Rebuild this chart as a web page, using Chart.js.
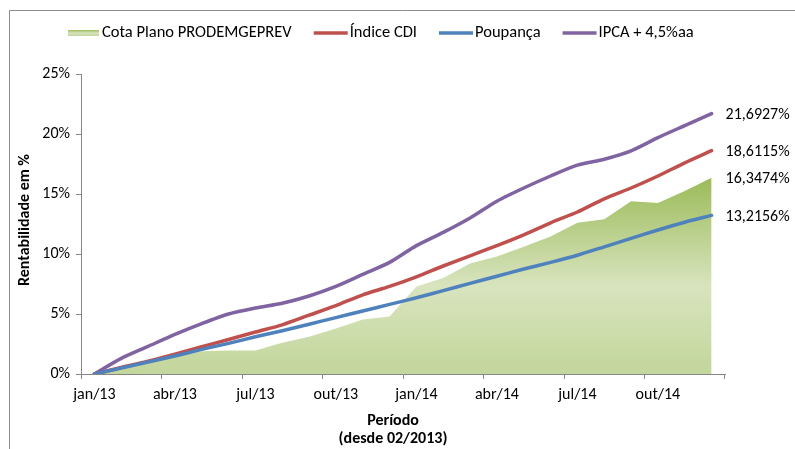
<!DOCTYPE html>
<html>
<head>
<meta charset="utf-8">
<script src="https://cdn.jsdelivr.net/npm/chart.js@4/dist/chart.umd.min.js"></script>
<style>
  html, body { margin: 0; padding: 0; background: #ffffff; }
  #wrap { position: relative; width: 795px; height: 449px; }
  canvas { display: block; }
</style>
</head>
<body>
<div id="wrap"><canvas id="c" width="795" height="449"></canvas></div>
<script>
// ---- Data ----
const categories = ['jan/13','fev/13','mar/13','abr/13','mai/13','jun/13','jul/13','ago/13','set/13','out/13','nov/13','dez/13',
                    'jan/14','fev/14','mar/14','abr/14','mai/14','jun/14','jul/14','ago/14','set/14','out/14','nov/14','dez/14'];
const cotaPlano = [0, 0.45, 0.95, 1.4, 1.9, 1.95, 1.95, 2.6, 3.1, 3.8, 4.55, 4.8, 7.3, 8.0, 9.2, 9.8, 10.6, 11.45, 12.6, 12.9, 14.4, 14.25, 15.25, 16.3474];
const indiceCDI = [0, 0.54, 1.07, 1.66, 2.27, 2.88, 3.5, 4.1, 4.9, 5.7, 6.6, 7.3, 8.1, 9.0, 9.85, 10.7, 11.6, 12.6, 13.5, 14.6, 15.5, 16.5, 17.6, 18.6115];
const poupanca = [0, 0.5, 1.0, 1.5, 2.05, 2.55, 3.1, 3.6, 4.15, 4.7, 5.25, 5.8, 6.35, 6.95, 7.55, 8.15, 8.75, 9.3, 9.9, 10.6, 11.3, 12.0, 12.65, 13.2156];
const ipca45 = [0, 1.3, 2.3, 3.3, 4.2, 5.0, 5.5, 5.9, 6.5, 7.3, 8.3, 9.3, 10.7, 11.8, 13.0, 14.4, 15.5, 16.5, 17.4, 17.9, 18.6, 19.7, 20.7, 21.6927];
const seriesNames = ['Cota Plano PRODEMGEPREV', 'Índice CDI', 'Poupança', 'IPCA + 4,5%aa'];
const yTicks = [0, 5, 10, 15, 20, 25];
const xTitle = ['Período', '(desde 02/2013)'];
const yTitle = 'Rentabilidade em %';

const FONT = 'Carlito, Calibri, Lato, sans-serif';
const AXIS_GRAY = '#868686';
const GREEN = '#9BBB59', RED = '#C0504D', BLUE = '#4F81BD', PURPLE = '#8064A2';

function areaGradient(chart) {
  const area = chart.chartArea;
  if (!area) return GREEN;
  const y = chart.scales.y;
  const top = y.getPixelForValue(Math.max(...cotaPlano));
  const bottom = y.getPixelForValue(0);
  const g = chart.ctx.createLinearGradient(0, top, 0, bottom);
  g.addColorStop(0, '#9BBB59');
  g.addColorStop(0.55, '#D8E4BE');
  g.addColorStop(1, '#C3D69B');
  return g;
}

const frameAndTextPlugin = {
  id: 'frameAndText',
  beforeDraw(chart) {
    const ctx = chart.ctx;
    ctx.save();
    ctx.strokeStyle = '#8c8c8c';
    ctx.lineWidth = 1;
    ctx.beginPath();
    ctx.moveTo(9.5, 449);
    ctx.lineTo(9.5, 10.5);
    ctx.lineTo(795, 10.5);
    ctx.stroke();
    ctx.restore();
  },
  afterDatasetsDraw(chart) {
    const ctx = chart.ctx;
    ctx.save();
    ctx.font = '16px ' + FONT;
    ctx.fillStyle = '#000';
    ctx.textAlign = 'left';
    ctx.textBaseline = 'middle';
    chart.data.datasets.forEach((ds, i) => {
      const meta = chart.getDatasetMeta(i);
      const last = meta.data[meta.data.length - 1];
      const v = ds.data[ds.data.length - 1];
      const txt = v.toFixed(4).replace('.', ',') + '%';
      ctx.fillText(txt, last.x + 14, last.y + 1.5);
    });
    ctx.restore();
  },
  afterDraw(chart) {
    const ctx = chart.ctx;
    ctx.save();
    // axis titles
    ctx.fillStyle = '#000';
    ctx.font = 'bold 16px ' + FONT;
    ctx.textAlign = 'center';
    ctx.textBaseline = 'middle';
    ctx.fillText(xTitle[0], 393, 421);
    ctx.fillText(xTitle[1], 393, 439);
    ctx.translate(25, 220);
    ctx.rotate(-Math.PI / 2);
    ctx.fillText(yTitle, 0, 0);
    ctx.restore();

    // legend
    ctx.save();
    ctx.font = '16.5px ' + FONT;
    ctx.textBaseline = 'middle';
    ctx.textAlign = 'left';
    const ly = 33;
    let x = 68;
    const colors = [null, RED, BLUE, PURPLE];
    seriesNames.forEach((name, i) => {
      if (i === 0) {
        const g = ctx.createLinearGradient(0, ly - 3, 0, ly + 3);
        g.addColorStop(0, '#9BBB59');
        g.addColorStop(0.5, '#D8E4BE');
        g.addColorStop(1, '#C3D69B');
        ctx.fillStyle = g;
        ctx.fillRect(x, ly - 3, 31, 6);
        x += 34;
      } else {
        ctx.strokeStyle = colors[i];
        ctx.lineWidth = 3.5;
        ctx.beginPath();
        ctx.moveTo(x, ly);
        ctx.lineTo(x + 34, ly);
        ctx.stroke();
        x += 36;
      }
      ctx.fillStyle = '#000';
      ctx.fillText(name, x, ly);
      x += ctx.measureText(name).width + 22;
    });
    ctx.restore();
  }
};

new Chart(document.getElementById('c'), {
  type: 'line',
  data: {
    labels: categories,
    datasets: [
      { label: seriesNames[0], data: cotaPlano, fill: 'origin', borderWidth: 0, borderColor: 'rgba(0,0,0,0)',
        backgroundColor: (c) => areaGradient(c.chart), pointRadius: 0, tension: 0, order: 4 },
      { label: seriesNames[1], data: indiceCDI, fill: false, borderColor: RED, borderWidth: 3.5,
        pointRadius: 0, tension: 0.25, order: 2, borderCapStyle: 'round', borderJoinStyle: 'round' },
      { label: seriesNames[2], data: poupanca, fill: false, borderColor: BLUE, borderWidth: 3.5,
        pointRadius: 0, tension: 0.25, order: 1, borderCapStyle: 'round', borderJoinStyle: 'round' },
      { label: seriesNames[3], data: ipca45, fill: false, borderColor: PURPLE, borderWidth: 3.5,
        pointRadius: 0, tension: 0.25, order: 3, borderCapStyle: 'round', borderJoinStyle: 'round' }
    ]
  },
  options: {
    responsive: false,
    animation: false,
    devicePixelRatio: 1,
    layout: { padding: { left: 0, right: 70, top: 74, bottom: 0 } },
    plugins: { legend: { display: false }, tooltip: { enabled: false }, title: { display: false } },
    scales: {
      x: {
        type: 'category',
        offset: true,
        grid: {
          offset: true,
          drawOnChartArea: false,
          drawTicks: true,
          tickLength: 5,
          tickColor: (c) => (c.type === 'scale' || c.index % 3 === 0) ? AXIS_GRAY : 'rgba(0,0,0,0)'
        },
        border: { display: true, color: AXIS_GRAY, width: 1 },
        ticks: {
          autoSkip: false,
          maxRotation: 0,
          minRotation: 0,
          padding: 6,
          color: '#000',
          font: { family: FONT, size: 16 },
          callback: function (val, idx) { return idx % 3 === 0 ? categories[idx] : ''; }
        },
        afterFit: (s) => { s.height = 75; }
      },
      y: {
        min: 0,
        max: 25,
        afterBuildTicks: (s) => { s.ticks = yTicks.map(v => ({ value: v })); },
        grid: { drawOnChartArea: false, drawTicks: true, tickLength: 5, tickColor: AXIS_GRAY },
        border: { display: true, color: AXIS_GRAY, width: 1 },
        ticks: {
          padding: 6,
          color: '#000',
          font: { family: FONT, size: 16 },
          callback: (v) => v + '%'
        },
        afterFit: (s) => { s.width = 81; }
      }
    }
  },
  plugins: [frameAndTextPlugin]
});
</script>
</body>
</html>
